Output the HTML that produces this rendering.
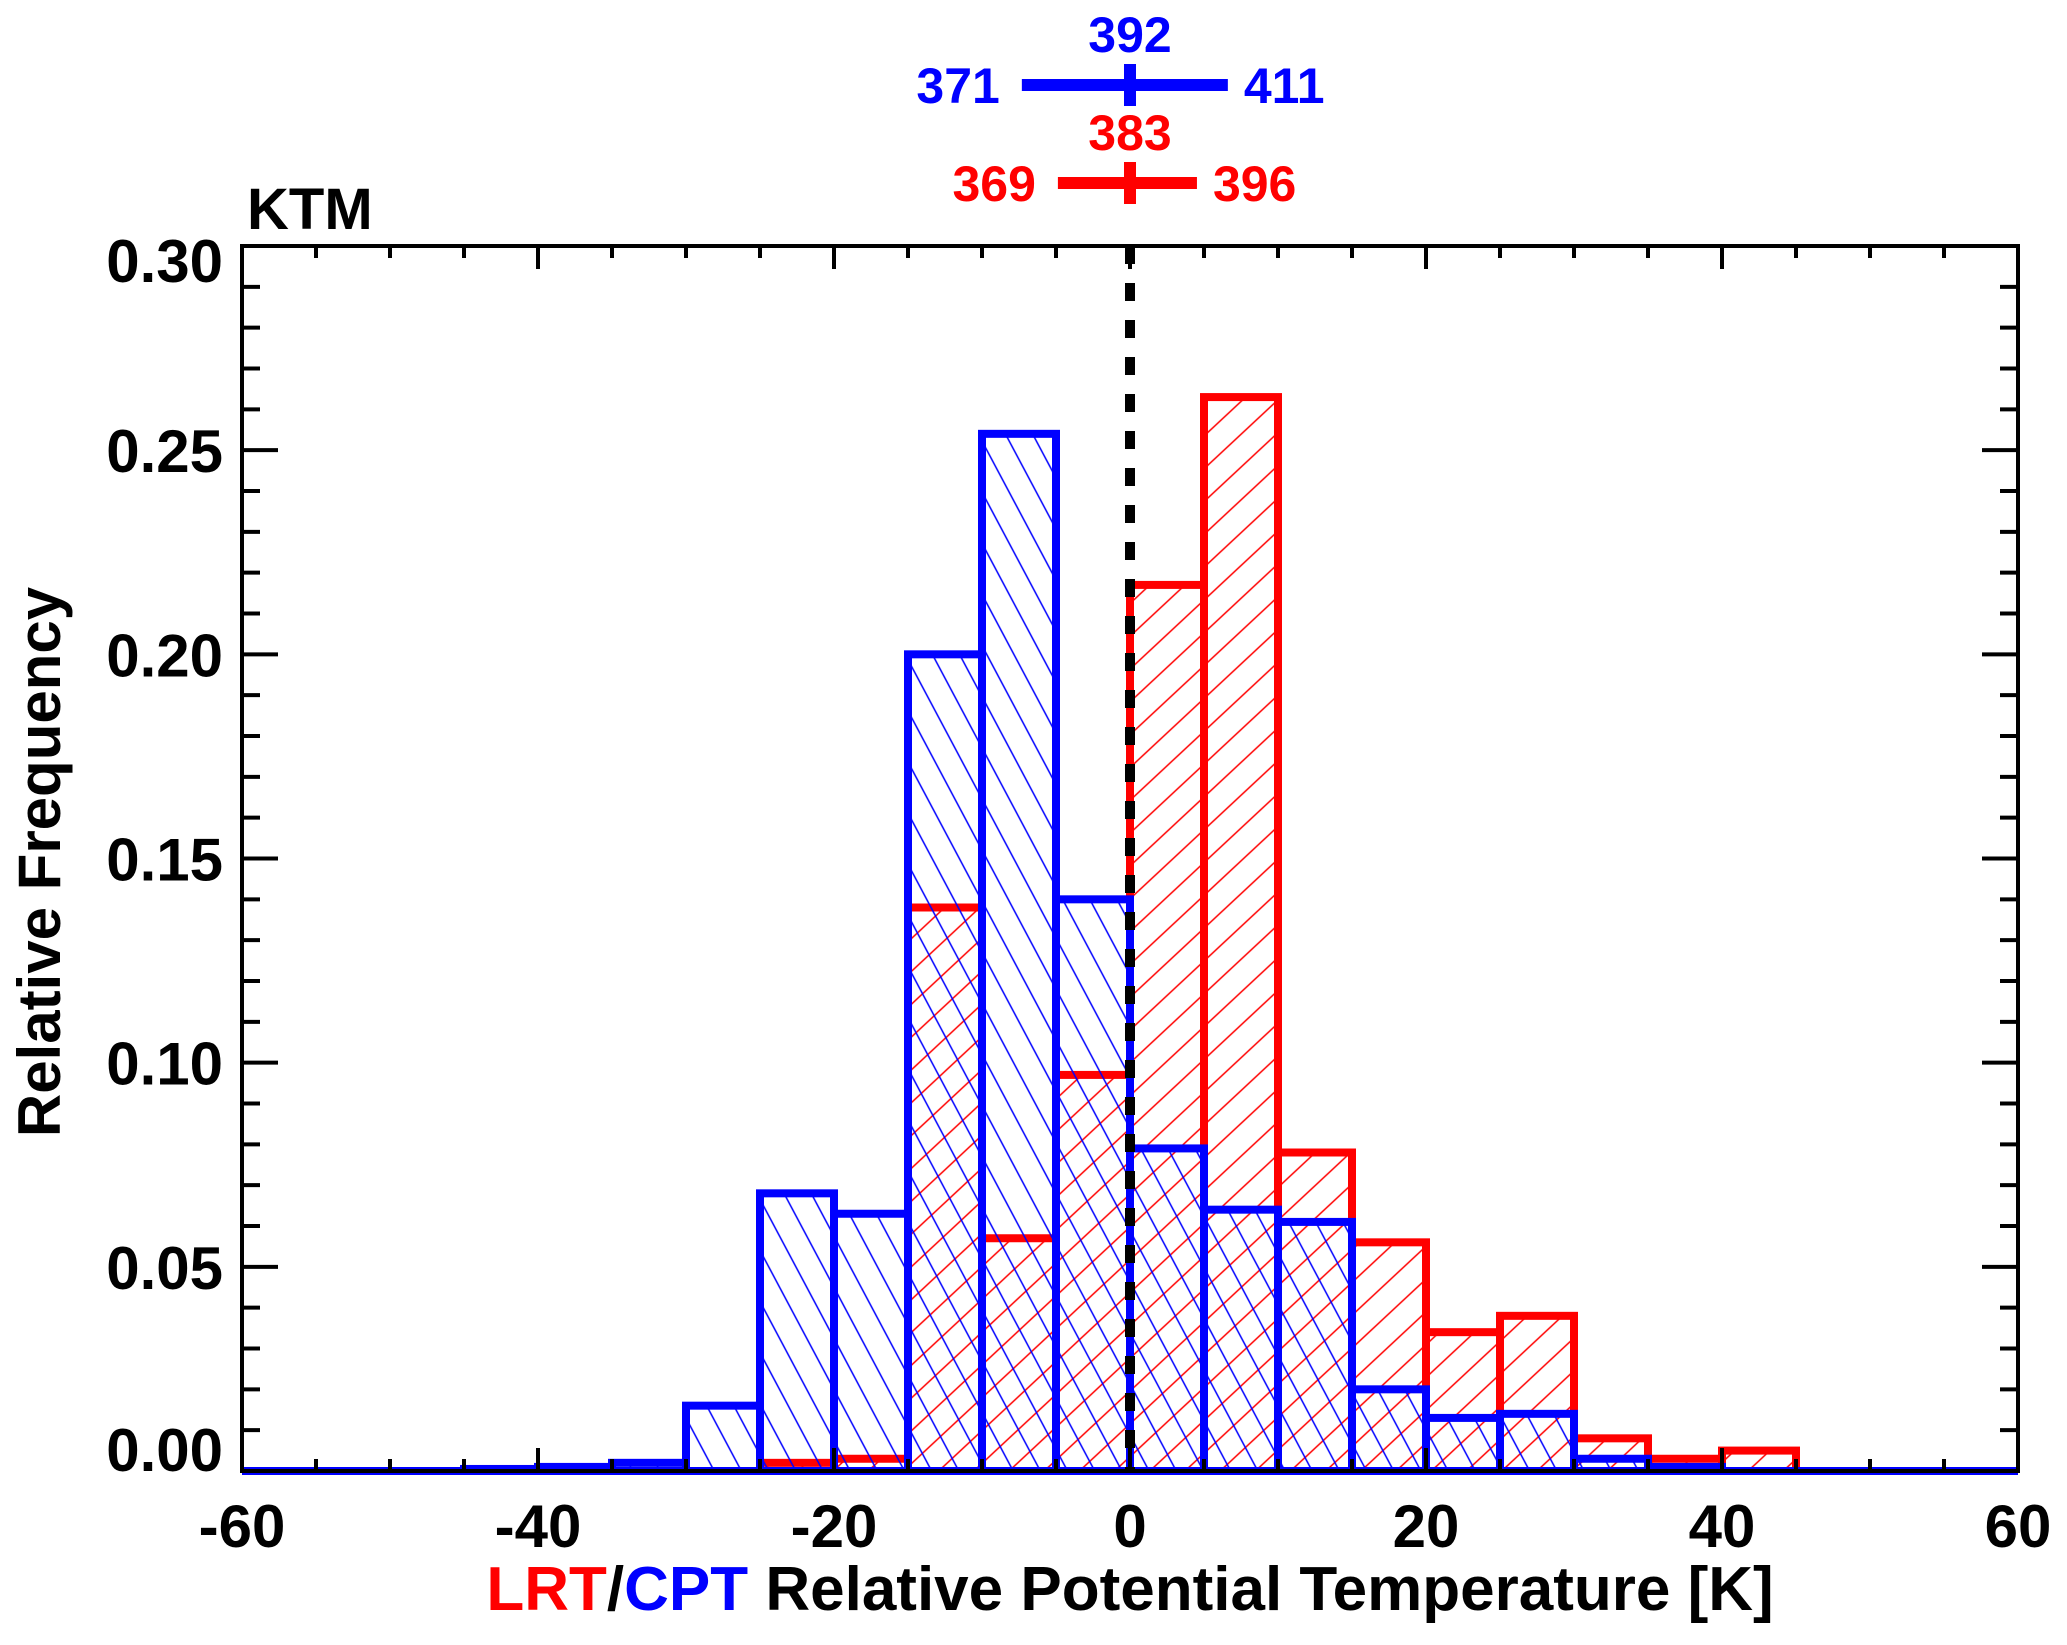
<!DOCTYPE html>
<html><head><meta charset="utf-8"><style>
html,body{margin:0;padding:0;background:#fff}
svg text{font-family:"Liberation Sans",Arial,sans-serif;font-weight:bold}
</style></head><body>
<svg id="chart" xmlns="http://www.w3.org/2000/svg" width="2067" height="1640" viewBox="0 0 2067 1640">
<defs>
<pattern id="hatchRed" patternUnits="userSpaceOnUse" width="24" height="24" patternTransform="rotate(-43)">
<line x1="0" y1="12" x2="24" y2="12" stroke="#ff0000" stroke-width="1.6"/>
</pattern>
<pattern id="hatchBlue" patternUnits="userSpaceOnUse" width="24" height="24" patternTransform="rotate(62)">
<line x1="0" y1="12" x2="24" y2="12" stroke="#0000ff" stroke-width="1.6"/>
</pattern>
</defs>
<g id="bars-red"></g>
<g id="bars-blue"></g>
<g id="axes"></g>
<text x="247" y="229" font-size="58" fill="#000">KTM</text>
<text transform="translate(60,862) rotate(-90)" text-anchor="middle" font-size="60" fill="#000">Relative Frequency</text>
<text x="1130" y="1610" text-anchor="middle" font-size="62"><tspan fill="#ff0000">LRT</tspan><tspan fill="#000">/</tspan><tspan fill="#0000ff">CPT</tspan><tspan fill="#000"> Relative Potential Temperature [K]</tspan></text>
<g id="summary"></g>
</svg>
<script>
const binEdgesStart = -60, binWidth = 5;
const binLefts = [-60,-55,-50,-45,-40,-35,-30,-25,-20,-15,-10,-5,0,5,10,15,20,25,30,35,40,45,50,55];
const lrtValues = [0,0,0,0,0,0,0,0.002,0.003,0.138,0.057,0.097,0.217,0.263,0.078,0.056,0.034,0.038,0.008,0.003,0.005,0,0,0];
const cptValues = [0,0,0,0.0005,0.001,0.002,0.016,0.068,0.063,0.200,0.254,0.140,0.079,0.064,0.061,0.020,0.013,0.014,0.003,0.001,0,0,0,0];
const xTicks = [-60,-40,-20,0,20,40,60];
const xTickLabels = ["-60","-40","-20","0","20","40","60"];
const yTicks = [0,0.05,0.10,0.15,0.20,0.25,0.30];
const yTickLabels = ["0.00","0.05","0.10","0.15","0.20","0.25","0.30"];
const lrtStats = [369,383,396];
const cptStats = [371,392,411];

const L=242,R=2018,T=246,B=1471;
const X=v=>L+(v+60)/120*(R-L);
const Y=v=>B-v/0.30*(B-T);
const NS="http://www.w3.org/2000/svg";
function mk(tag,attrs,parent){const e=document.createElementNS(NS,tag);for(const k in attrs)e.setAttribute(k,attrs[k]);parent.appendChild(e);return e;}

function drawBars(gid,vals,pat,color,prefix){
  const g=document.getElementById(gid);
  vals.forEach((v,i)=>{
    const x0=X(binLefts[i]),x1=X(binLefts[i]+binWidth),y=Y(v);
    if(v<=0) return;
    const f=mk('rect',{x:x0,y:y,width:x1-x0,height:B-y,fill:'url(#'+pat+')'},g);
    
    
    const o=mk('rect',{x:x0,y:y,width:x1-x0,height:B-y,fill:'none',stroke:color,'stroke-width':8},g);
    
    
  });
  const base=mk('line',{x1:L,y1:B,x2:R,y2:B,stroke:color,'stroke-width':8},g);
  
  
}
drawBars('bars-red',lrtValues,'hatchRed','#ff0000','lrt');
drawBars('bars-blue',cptValues,'hatchBlue','#0000ff','cpt');

const ax=document.getElementById('axes');
const z=mk('line',{x1:X(0),y1:T,x2:X(0),y2:B,stroke:'#000','stroke-width':10,'stroke-dasharray':'18 19'},ax);


const fr=mk('rect',{x:L,y:T,width:R-L,height:B-T,fill:'none',stroke:'#000','stroke-width':4},ax);


// x ticks
for(let v=-60;v<=60;v+=5){
  const major=v%20===0, len=major?23:(v%10===0?12:12);
  mk('line',{x1:X(v),y1:B,x2:X(v),y2:B-len,stroke:'#000','stroke-width':4},ax);
  mk('line',{x1:X(v),y1:T,x2:X(v),y2:T+len,stroke:'#000','stroke-width':4},ax);
}
xTicks.forEach((v,i)=>{
  const t=mk('text',{x:X(v),y:1547,'text-anchor':'middle','font-size':60,fill:'#000'},ax);
  t.textContent=xTickLabels[i];
  
  
});
for(let k=0;k<=30;k++){
  const v=k/100, len=(k%5===0)?36:18;
  mk('line',{x1:L,y1:Y(v),x2:L+len,y2:Y(v),stroke:'#000','stroke-width':4},ax);
  mk('line',{x1:R,y1:Y(v),x2:R-len,y2:Y(v),stroke:'#000','stroke-width':4},ax);
}
yTicks.forEach((v,i)=>{
  let by=Y(v)+22; if(i===0) by=B; if(i===yTicks.length-1) by=T+36;
  const t=mk('text',{x:223,y:by,'text-anchor':'end','font-size':60,fill:'#000'},ax);
  t.textContent=yTickLabels[i];
  
  
});

// summary bars
const sg=document.getElementById('summary');
const sx=v=>X(0)+(v)*5.15;
function summary(stats,color,yc,prefix){
  const mid=stats[1];
  const a=sx(stats[0]-mid),b=sx(stats[2]-mid),c=X(0);
  const l=mk('line',{x1:a,y1:yc,x2:b,y2:yc,stroke:color,'stroke-width':12},sg);
  
  
  mk('line',{x1:c,y1:yc-21,x2:c,y2:yc+21,stroke:color,'stroke-width':12},sg);
  const t1=mk('text',{x:a-22,y:yc+11+7,'text-anchor':'end','font-size':50,fill:color},sg);t1.textContent=stats[0];
  
  
  const t2=mk('text',{x:b+16,y:yc+11+7,'text-anchor':'start','font-size':50,fill:color},sg);t2.textContent=stats[2];
  
  
  const t3=mk('text',{x:c,y:yc-33,'text-anchor':'middle','font-size':50,fill:color},sg);t3.textContent=stats[1];
  
  
}
summary(cptStats,'#0000ff',85,'cpt');
summary(lrtStats,'#ff0000',183,'lrt');
</script>
</body></html>
